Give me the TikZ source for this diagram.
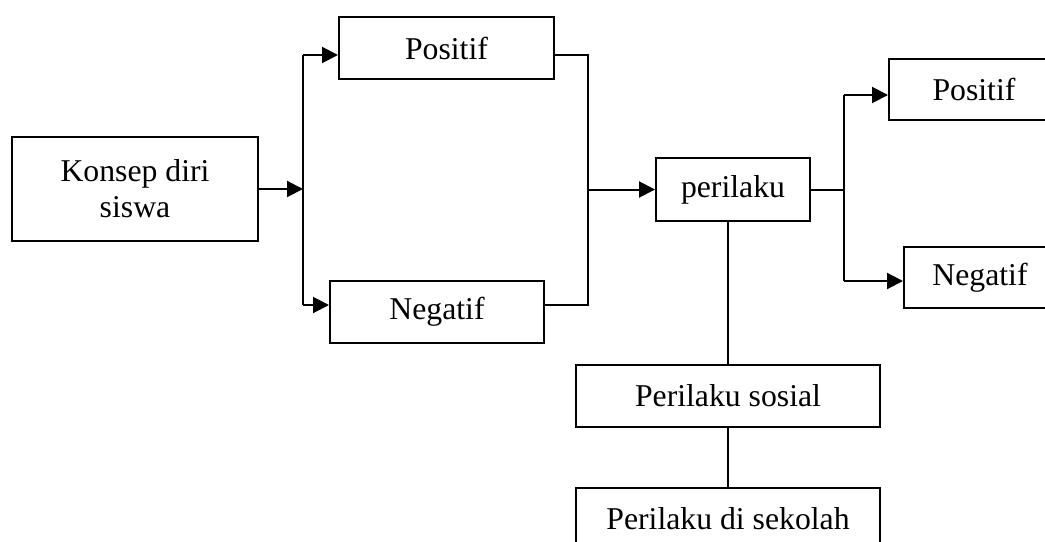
\documentclass[tikz,border=0pt]{standalone}
\usepackage{fontspec}
\setmainfont{Liberation Serif}
\usetikzlibrary{arrows.meta,positioning,calc}

\begin{document}
\begin{tikzpicture}[
  x=0.75pt, y=-0.75pt,
  font=\fontsize{23.8}{27}\selectfont,
  box/.style={draw, line width=1.5pt, align=center, inner sep=0pt},
  arr/.style={-{Triangle[length=12pt, width=12pt]}, line width=1.5pt},
  lin/.style={line width=1.5pt}
]
  \useasboundingbox (0,0) rectangle (1045,542);
  \node[box, minimum width=184.5pt, minimum height=78pt] (konsep) at (135,189) {Konsep diri\\siswa};
  \node[box, minimum width=161.25pt, minimum height=46.5pt] (pos1) at (446.5,48) {Positif};
  \node[box, minimum width=160.5pt, minimum height=46.5pt] (neg1) at (437,312) {Negatif};
  \node[box, minimum width=115.5pt, minimum height=47.25pt] (perilaku) at (733,189.5) {perilaku};
  \node[box, minimum width=127.5pt, minimum height=45.75pt] (pos2) at (974,89.5) {Positif};
  \node[box, minimum width=114pt, minimum height=45.75pt] (neg2) at (980,277.5) {Negatif};
  \node[box, minimum width=228pt, minimum height=46.5pt] (sosial) at (728,396) {Perilaku sosial};
  \node[box, minimum width=228pt, minimum height=46.5pt, below=44.25pt of sosial] (sekolah) {Perilaku di sekolah};
  % forks and joins
  \coordinate (forkTop) at (303,55);
  \coordinate (forkBot) at (303,305);
  \coordinate (joinTop) at (588,55);
  \coordinate (joinBot) at (588,305);
  \coordinate (splitTop) at (844,95);
  \coordinate (splitBot) at (844,281);
  % konsep diri splits into positif / negatif
  \draw[arr] (konsep.east) -- (konsep.east -| forkTop);
  \draw[lin] (forkTop) -- (forkBot);
  \draw[arr] (forkTop) -- (forkTop -| pos1.west);
  \draw[arr] (forkBot) -- (forkBot -| neg1.west);
  % both lead to perilaku
  \draw[lin] (joinTop -| pos1.east) -- (joinTop) -- (joinBot) -- (joinBot -| neg1.east);
  \draw[arr] (joinTop |- perilaku.west) -- (perilaku.west);
  % perilaku splits again
  \draw[lin] (perilaku.east) -- (perilaku.east -| splitTop);
  \draw[lin] (splitTop) -- (splitBot);
  \draw[arr] (splitTop) -- (splitTop -| pos2.west);
  \draw[arr] (splitBot) -- (splitBot -| neg2.west);
  % down to perilaku sosial and sekolah
  \draw[lin] (sosial.north |- perilaku.south) -- (sosial.north);
  \draw[lin] (sosial.south) -- (sekolah.north);
\end{tikzpicture}
\end{document}
